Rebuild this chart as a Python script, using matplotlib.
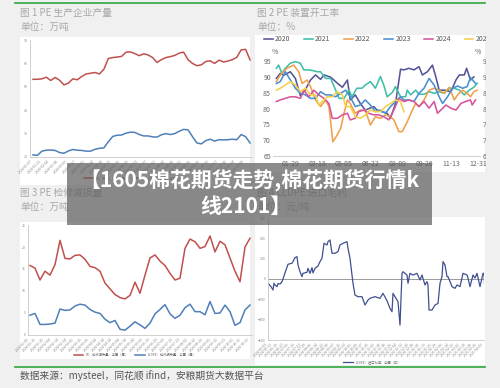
import numpy as np
import pandas as pd
import matplotlib
matplotlib.use('Agg')
import matplotlib.pyplot as plt
from matplotlib.patches import Rectangle
from matplotlib.lines import Line2D

plt.rcParams['font.family'] = ['Noto Sans CJK SC', 'DejaVu Sans']

# ---- data: figure 1, weekly output (10k t)
pe_output = [53.2, 53.2, 53.4, 54.1, 52.7, 54.0, 52.8, 50.8, 51.6, 53.4,
             53.0, 54.4, 55.5, 55.8, 56.1, 55.5, 57.5, 62.1, 62.5, 62.7,
             63.0, 64.8, 64.9, 64.2, 63.3, 64.1, 63.6, 62.5, 60.4, 61.6,
             62.5, 62.9, 63.4, 64.4, 64.8, 61.6, 60.0, 59.0, 59.4, 60.8,
             61.1, 60.0, 61.4, 60.6, 61.0, 61.6, 62.6, 65.8, 66.0, 61.5]
lldpe_output = [20.9, 20.7, 22.5, 22.9, 23.0, 22.8, 21.9, 21.6, 22.6, 23.2,
                22.9, 22.8, 22.5, 22.5, 23.3, 23.7, 23.9, 26.5, 28.8, 29.3,
                29.4, 30.2, 30.6, 30.5, 29.6, 29.0, 29.0, 28.6, 28.5, 29.5,
                30.0, 29.6, 30.0, 31.0, 31.8, 31.6, 28.7, 26.0, 25.6, 27.0,
                27.6, 26.8, 27.4, 27.3, 27.4, 27.6, 27.4, 29.6, 28.7, 26.0]
output_dates = list(pd.date_range('2024-01-07', periods=25, freq='14D').strftime('%Y-%m-%d'))

# ---- data: figure 2, operating rate (%) by year, day of year
days_2020 = [4, 11, 17, 29, 38, 47, 56, 65, 74, 83, 89, 101, 113, 122, 131, 136, 145, 154, 163, 178, 184,
             193, 202, 208, 217, 226, 232, 241, 250, 259, 265, 274, 283, 289, 295, 304, 316, 325, 331, 340,
             344, 351, 357]
rate_2020 = [89.5, 91.1, 90.5, 91.6, 89.5, 84.0, 86.0, 89.0, 90.6, 89.2, 90.6, 89.9, 88.0, 86.7, 89.0, 82.7,
             84.3, 81.6, 79.5, 80.6, 79.5, 79.0, 78.5, 76.9, 81.6, 92.4, 92.2, 92.7, 92.2, 93.2, 90.6, 91.6,
             93.7, 90.0, 85.8, 85.8, 85.3, 89.0, 90.6, 90.6, 92.7, 89.0, 90.0]
days_2021 = [4, 8, 14, 20, 29, 38, 47, 53, 62, 71, 77, 83, 92, 101, 110, 116, 125, 134, 139, 148, 157, 163,
             172, 181, 190, 196, 202, 211, 217, 226, 235, 238, 244, 253, 259, 268, 277, 286, 295, 304, 313,
             322, 331, 340, 349, 357, 363]
rate_2021 = [92.7, 93.7, 91.1, 92.7, 94.3, 94.8, 94.3, 92.2, 92.2, 91.9, 91.6, 91.6, 89.5, 89.5, 85.8, 83.2,
             83.2, 85.8, 83.7, 86.4, 86.4, 87.4, 88.5, 86.4, 90.1, 87.4, 83.7, 85.0, 86.9, 83.7, 83.7, 85.8,
             84.3, 85.8, 84.5, 84.5, 85.3, 84.8, 85.3, 84.8, 86.4, 86.4, 85.8, 84.3, 85.8, 86.7, 88.0]
days_2022 = [4, 11, 23, 35, 44, 50, 59, 65, 74, 83, 92, 98, 105, 111, 119, 125, 131, 136, 145, 154, 163, 172,
             181, 190, 199, 208, 214, 223, 229, 238, 247, 253, 259, 268, 277, 286, 295, 304, 313, 322, 328,
             337, 345, 351, 357, 363]
rate_2022 = [88.5, 90.6, 92.7, 93.7, 91.6, 87.9, 89.0, 86.9, 82.7, 80.6, 82.7, 80.6, 69.5, 71.1, 73.7, 78.5,
             82.7, 81.6, 78.5, 79.5, 79.5, 74.8, 77.4, 76.9, 78.0, 77.4, 76.4, 72.7, 72.7, 75.8, 79.5, 81.6,
             80.6, 82.7, 85.8, 86.4, 85.8, 84.8, 86.7, 82.7, 84.3, 85.8, 84.8, 83.7, 85.3, 85.8]
days_2023 = [4, 11, 20, 29, 38, 47, 56, 65, 74, 83, 92, 101, 110, 119, 128, 136, 145, 154, 163, 172, 181,
             190, 199, 208, 217, 226, 232, 241, 250, 259, 268, 277, 286, 295, 301, 310, 319, 328, 337, 345,
             351, 360]
rate_2023 = [87.9, 88.5, 91.6, 89.0, 86.4, 84.8, 84.3, 83.2, 83.2, 85.3, 84.3, 84.3, 83.7, 84.8, 85.8, 83.7,
             80.6, 81.1, 82.7, 81.1, 79.0, 79.5, 78.5, 80.6, 82.2, 83.7, 82.7, 82.7, 82.2, 84.8, 86.4, 89.5,
             87.4, 83.7, 81.6, 83.7, 86.4, 87.1, 86.4, 86.9, 89.8, 87.9]
days_2024 = [4, 11, 20, 29, 38, 47, 53, 62, 71, 80, 89, 98, 104, 113, 122, 131, 136, 145, 151, 160, 169,
             178, 187, 196, 205, 214, 223, 232, 241, 250, 259, 268, 277, 286, 292, 298, 307, 316, 325, 334,
             342, 351, 354, 360]
rate_2024 = [82.2, 82.7, 83.2, 83.7, 83.7, 83.2, 85.8, 83.7, 85.8, 84.3, 83.2, 81.6, 76.9, 76.9, 78.0, 78.5,
             76.4, 76.9, 79.0, 79.5, 78.5, 78.0, 78.0, 77.4, 76.4, 79.5, 83.2, 82.2, 82.7, 82.2, 80.6, 82.2,
             80.1, 82.2, 78.5, 79.5, 81.1, 80.1, 79.5, 81.6, 82.2, 82.7, 81.1, 82.7]
days_2025 = [4, 11, 20, 29, 38, 47, 56, 65, 74, 80, 86, 95, 104, 113, 122, 128, 136, 145, 154, 163, 172,
             181, 190, 199, 208, 217, 226, 232]
rate_2025 = [85.8, 86.4, 87.4, 88.5, 87.4, 85.3, 86.4, 84.3, 84.3, 81.1, 82.2, 83.7, 83.7, 85.3, 84.3, 80.6,
             80.6, 77.4, 76.9, 78.0, 79.5, 79.0, 79.0, 80.6, 81.6, 82.7, 82.2, 79.0]
years = ['2020', '2021', '2022', '2023', '2024', '2025']
year_colors = ['#55559a', '#3fbfa8', '#f0a04b', '#4a8fd0', '#d6559c', '#f4d04a']
date_ticks = [29, 77, 125, 173, 221, 269, 317, 365]
date_labels = ['01-29', '03-18', '05-05', '06-22', '08-09', '09-26', '11-13', '12-31']

# ---- data: figure 3, maintenance loss (10k t)
pe_loss = [15.8, 15.2, 12.5, 14.5, 13.6, 16.0, 21.5, 17.4, 17.3, 18.1, 18.2, 17.2, 15.6, 15.3, 14.5,
           11.8, 10.5, 9.2, 8.5, 8.2, 9.0, 12.0, 9.5, 13.6, 17.5, 18.2, 16.8, 15.8, 14.0, 12.5,
           12.9, 19.7, 21.8, 21.2, 19.7, 20.1, 22.5, 18.9, 21.3, 20.5, 17.5, 14.5, 12.1, 20.0, 22.0]
lldpe_loss = [4.5, 4.9, 2.4, 2.4, 2.5, 2.7, 5.9, 5.6, 5.7, 6.6, 7.0, 6.8, 5.8, 5.2, 4.9,
              3.6, 2.8, 3.3, 1.3, 1.1, 2.0, 3.0, 2.3, 1.5, 2.7, 4.8, 5.8, 6.9, 4.8, 3.8,
              4.5, 6.2, 7.0, 5.3, 5.3, 4.6, 7.6, 4.9, 5.0, 6.8, 5.3, 2.2, 2.8, 5.7, 6.8]
loss_dates = list(pd.date_range('2024-01-05', periods=30, freq='10D').strftime('%Y-%m-%d'))

# ---- data: figure 4, LLDPE import margin (yuan/t), trading day
margin_day = [0, 3, 5, 6, 7, 9, 10, 12, 14, 15, 18, 20, 24, 25, 27, 29, 30, 32, 34, 35, 39, 40, 42, 44,
              45, 47, 50, 52, 54, 56, 59, 60, 62, 64, 67, 70, 72, 75, 79, 80, 82, 84, 85, 87, 90, 94,
              97, 100, 102, 107, 112, 115, 119, 122, 124, 125, 127, 130, 132, 134, 135, 139, 140, 142,
              145, 149, 152, 154, 157, 159, 160, 161, 164, 167, 170, 172, 174, 175, 177, 179, 180, 182,
              184, 187, 189, 192, 195, 199, 200, 202, 205, 207, 209, 212, 215, 216, 217]
margin = [-42, -75, -108, -42, -60, -75, -45, -50, -26, 0, 89, 145, 155, 171, 210, 220, 138, 72, 23, 56,
          66, 105, 56, 112, 60, 105, 128, 171, 204, 351, 335, 367, 384, 253, 253, 269, 335, 351, 367, 302,
          204, 39, -42, -158, -174, -174, -256, -207, -190, -174, -190, -141, -213, -289, -322, -141,
          -174, -223, -453, 56, 72, 39, -42, 56, 39, 56, -10, 39, -59, -26, -59, -305, -305, -256, -240,
          -42, 23, 171, 138, 23, 23, -26, -75, -92, -59, -75, 56, 39, 10, -75, 39, 10, 56, -75, 56, 56,
          -141]
margin_dates = list(pd.date_range('2024-06-03', periods=39, freq='8D').strftime('%Y-%m-%d'))

W, H = 500, 388
BG = '#f0f0f0'


def rect(l, t, r, b):
    return [l / W, 1 - b / H, (r - l) / W, (b - t) / H]


def fy(y):
    return 1 - y / H


fig = plt.figure(figsize=(W / 100, H / 100), dpi=100, facecolor=BG)

# white panel boxes
for l, t, r, b in [(20, 37, 250, 185), (255, 35, 485, 172), (20, 222, 250, 359), (255, 217, 485, 365)]:
    fig.add_artist(Rectangle((l / W, 1 - b / H), (r - l) / W, (b - t) / H, transform=fig.transFigure,
                             facecolor='white', edgecolor='none', zorder=-5))

# green rules
for y in [3, 367]:
    fig.add_artist(Line2D([15 / W, 485 / W], [fy(y), fy(y)], color='#3cae4c', lw=1.3, zorder=1))

title_kw = dict(fontsize=7, color='#a8a8a8', va='center', ha='left')
fig.text(20 / W, fy(13), '图 1 PE 生产企业产量', **title_kw)
fig.text(20 / W, fy(27), '单位：万吨', **title_kw)
fig.text(257 / W, fy(13), '图 2 PE 装置开工率', **title_kw)
fig.text(257 / W, fy(27), '单位：%', **title_kw)
fig.text(20 / W, fy(193), '图 3 PE 检修减损量', **title_kw)
fig.text(20 / W, fy(207), '单位：万吨', **title_kw)
fig.text(257 / W, fy(193), '图 4 LLDPE 进口毛利', **title_kw)
fig.text(257 / W, fy(207), '单位：元/吨', **title_kw)
fig.text(20 / W, fy(376), '数据来源：mysteel，同花顺 ifind，安粮期货大数据平台', fontsize=7,
         color='#555555', va='center', ha='left')


def small_axes(ax):
    for s in ['top', 'right']:
        ax.spines[s].set_visible(False)
    for s in ['left', 'bottom']:
        ax.spines[s].set_color('#c8c8c8')
        ax.spines[s].set_linewidth(0.6)
    ax.set_facecolor('none')
    ax.tick_params(length=0, pad=1.5, labelsize=2.5, colors='#888888')


# ---- figure 1
ax1 = fig.add_axes(rect(30, 40, 252, 157))
idx1 = np.arange(len(pe_output))
l_pe, = ax1.plot(idx1, pe_output, color='#c0504d', lw=1.1, label='PE：产量：中国（周）')
l_ll, = ax1.plot(idx1, lldpe_output, color='#4f7fb8', lw=1.1, label='LLDPE：产量：中国（周）')
ax1.set_xlim(-0.68, 49.44)
ax1.set_ylim(20, 70)
ax1.set_yticks(range(20, 71, 10))
ax1.set_xticks(idx1[::2])
ax1.set_xticklabels(output_dates, rotation=45, ha='right', fontsize=1.9)
small_axes(ax1)
fig.legend(handles=[l_pe, l_ll], loc='center', bbox_to_anchor=(135 / W, fy(178)), ncol=2, frameon=False,
           fontsize=2.3, handlelength=3, labelcolor='#666666')

# ---- figure 2
ax2 = fig.add_axes(rect(273, 61, 480, 156))
series = [(days_2020, rate_2020), (days_2021, rate_2021), (days_2022, rate_2022),
          (days_2023, rate_2023), (days_2024, rate_2024), (days_2025, rate_2025)]
handles = []
for (d, v), yr, c in zip(series, years, year_colors):
    h, = ax2.plot(d, v, color=c, lw=1.15, clip_on=False, label=yr)
    handles.append(h)
ax2.set_xlim(-2, 368)
ax2.set_ylim(65, 95)
ax2.set_yticks(range(65, 96, 5))
ax2.set_xticks(date_ticks)
ax2.set_xticklabels(date_labels)
for s in ['top', 'right', 'left']:
    ax2.spines[s].set_visible(False)
ax2.spines['bottom'].set_color('#d4d4d4')
ax2.spines['bottom'].set_linewidth(0.8)
ax2.set_facecolor('none')
ax2.tick_params(length=0, labelsize=5, colors='#666666')
ax2.tick_params(axis='y', pad=1.5)
ax2.tick_params(axis='x', pad=3)
ax2r = ax2.twinx()
ax2r.set_ylim(65, 95)
ax2r.set_yticks(range(65, 96, 5))
for s in ax2r.spines.values():
    s.set_visible(False)
ax2r.tick_params(length=0, labelsize=5, colors='#666666', pad=2.2)
fig.text(275 / W, fy(52), '%', fontsize=5, color='#666666', ha='center', va='center')
fig.text(478 / W, fy(52), '%', fontsize=5, color='#666666', ha='center', va='center')
fig.legend(handles=handles, loc='center left', bbox_to_anchor=(264 / W, fy(39)), ncol=6, frameon=False,
           fontsize=5, handlelength=1.25, handletextpad=0.3, columnspacing=2.0, borderpad=0,
           borderaxespad=0, labelcolor='#555555')

# ---- figure 3
ax3 = fig.add_axes(rect(28, 225, 252, 335))
idx3 = np.arange(len(pe_loss))
p3, = ax3.plot(idx3, pe_loss, color='#c0504d', lw=1.1, label='PE：检修损失量：中国（周）')
b3, = ax3.plot(idx3, lldpe_loss, color='#4f7fb8', lw=1.1, label='LLDPE：检修损失量：中国（周）')
ax3.set_xlim(-0.4, 44.4)
ax3.set_ylim(0, 25)
ax3.set_yticks(range(0, 26, 5))
ax3.set_xticks(np.linspace(0, 44, len(loss_dates)))
ax3.set_xticklabels(loss_dates, rotation=45, ha='right', fontsize=1.9)
small_axes(ax3)
fig.legend(handles=[p3, b3], loc='center', bbox_to_anchor=(135 / W, fy(355)), ncol=2, frameon=False,
           fontsize=2.3, handlelength=3, labelcolor='#666666')

# ---- figure 4
ax4 = fig.add_axes(rect(268, 218, 484, 340))
m4, = ax4.plot(margin_day, margin, color='#3f4f8f', lw=0.9, label='LLDPE：进口利润：中国（日）')
ax4.axhline(0, color='#9a9a9a', lw=0.7, zorder=0)
ax4.set_xlim(0, 216)
ax4.set_ylim(-600, 600)
ax4.set_yticks(range(-600, 601, 200))
ax4.set_xticks(np.linspace(0, 216, len(margin_dates)))
ax4.set_xticklabels(margin_dates, rotation=45, ha='right', fontsize=1.9)
small_axes(ax4)
fig.legend(handles=[m4], loc='center', bbox_to_anchor=(372 / W, fy(362)), frameon=False,
           fontsize=2.3, handlelength=3, labelcolor='#666666')

# right margin of the page
fig.add_artist(Rectangle((486 / W, 0), 14 / W, 1, transform=fig.transFigure, facecolor=BG,
                         edgecolor='none', zorder=8))

# title banner
fig.add_artist(Rectangle((67 / W, fy(225)), (432 - 67) / W, 62 / H, transform=fig.transFigure,
                         facecolor='#5c5c5c', alpha=0.7, edgecolor='none', zorder=10))
fig.text(249 / W, fy(181), '【1605棉花期货走势,棉花期货行情k', fontsize=15, fontweight='bold',
         color='white', ha='center', va='center', zorder=11)
fig.text(246 / W, fy(206), '线2101】', fontsize=15, fontweight='bold',
         color='white', ha='center', va='center', zorder=11)

fig.savefig('out.png', dpi=100, facecolor=BG)
